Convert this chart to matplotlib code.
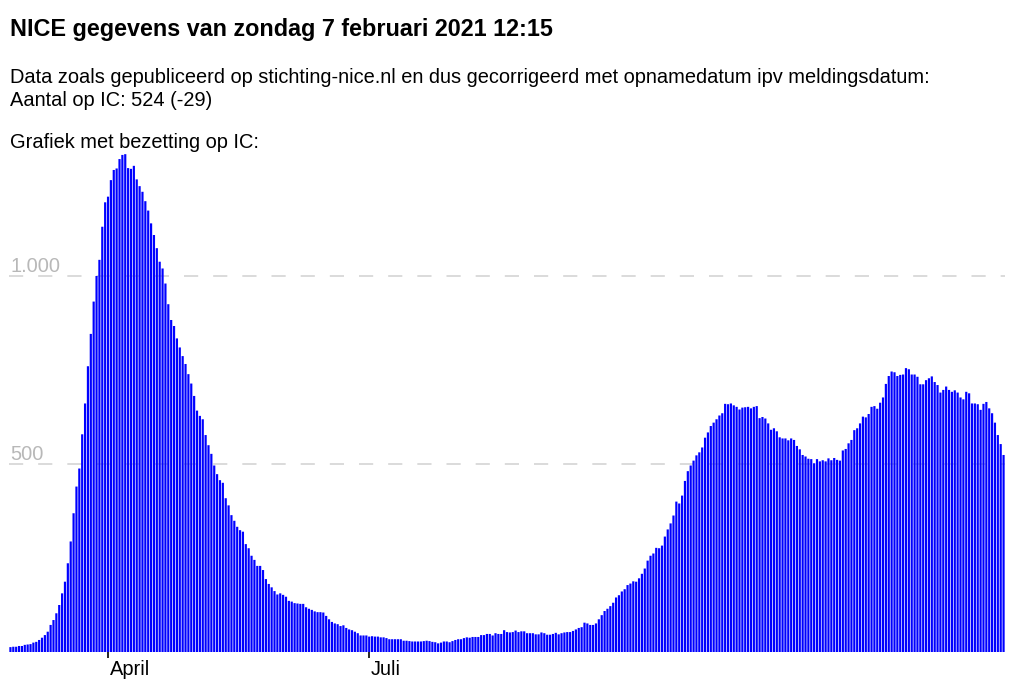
import matplotlib
matplotlib.use("Agg")
import matplotlib.pyplot as plt
import matplotlib.transforms as mtransforms
import pandas as pd

plt.rcParams['font.family'] = ['Liberation Sans', 'DejaVu Sans']

title = "NICE gegevens van zondag 7 februari 2021 12:15"
line1 = "Data zoals gepubliceerd op stichting-nice.nl en dus gecorrigeerd met opnamedatum ipv meldingsdatum:"
line2 = "Aantal op IC: 524 (-29)"
line3 = "Grafiek met bezetting op IC:"

start_date = "2020-02-27"
tick_dates = ["2020-04-01", "2020-07-01"]
tick_labels = ["April", "Juli"]
y_ticks = [500, 1000]
y_tick_labels = ["500", "1.000"]

ic_bezetting = [
    13, 14, 14, 16, 16, 19, 20, 21, 25, 27,
    32, 38, 45, 54, 72, 85, 103, 125, 156, 187,
    236, 294, 369, 440, 488, 579, 661, 760, 846, 932,
    1000, 1043, 1131, 1196, 1211, 1255, 1282, 1286, 1311, 1322,
    1324, 1287, 1285, 1293, 1257, 1239, 1224, 1199, 1174, 1140,
    1109, 1074, 1038, 1020, 980, 925, 883, 867, 834, 810,
    787, 766, 739, 714, 681, 642, 628, 619, 577, 550,
    527, 496, 473, 457, 450, 409, 390, 364, 349, 333,
    324, 320, 287, 276, 256, 245, 229, 229, 218, 194,
    181, 172, 162, 153, 156, 152, 147, 136, 134, 130,
    129, 128, 128, 119, 115, 112, 108, 106, 106, 105,
    96, 87, 80, 76, 74, 69, 71, 64, 60, 58,
    54, 50, 44, 44, 44, 41, 42, 41, 41, 39,
    39, 37, 34, 34, 34, 34, 34, 30, 30, 29,
    28, 28, 28, 28, 29, 30, 29, 27, 26, 23,
    25, 28, 28, 26, 29, 32, 34, 34, 37, 39,
    38, 40, 40, 40, 45, 45, 48, 48, 44, 50,
    48, 48, 58, 53, 52, 53, 57, 53, 55, 55,
    50, 50, 50, 47, 47, 52, 50, 46, 46, 48,
    51, 47, 50, 52, 53, 53, 56, 60, 64, 66,
    78, 76, 72, 72, 76, 87, 98, 109, 115, 122,
    131, 145, 151, 161, 167, 178, 182, 188, 187, 196,
    208, 222, 243, 256, 262, 277, 276, 283, 307, 326,
    342, 363, 400, 395, 416, 455, 481, 496, 509, 523,
    531, 544, 570, 584, 601, 610, 619, 629, 635, 660,
    659, 661, 656, 652, 645, 650, 651, 652, 648, 652,
    654, 622, 625, 621, 608, 591, 595, 587, 571, 568,
    568, 563, 568, 564, 548, 539, 524, 520, 514, 513,
    502, 513, 507, 510, 507, 515, 510, 516, 511, 509,
    536, 540, 555, 564, 590, 595, 608, 626, 624, 633,
    652, 654, 647, 663, 677, 713, 734, 746, 744, 734,
    737, 738, 755, 752, 738, 738, 732, 712, 712, 723,
    728, 733, 718, 710, 690, 697, 706, 697, 692, 696,
    690, 677, 672, 692, 688, 661, 661, 659, 644, 660,
    665, 648, 635, 610, 577, 553, 524,
]

dates = pd.date_range(start_date, periods=len(ic_bezetting), freq="D")
x = list(range(len(ic_bezetting)))

W, H = 1023, 689
fig = plt.figure(figsize=(W / 100, H / 100), dpi=100)

def fy(px):
    return 1 - px / H

body_fs = 14.4
fig.text(10 / W, fy(36), title, fontsize=16.8, fontweight="bold", va="baseline", ha="left")
fig.text(10 / W, fy(83), line1, fontsize=body_fs, va="baseline", ha="left")
fig.text(10 / W, fy(106), line2, fontsize=body_fs, va="baseline", ha="left")
fig.text(10 / W, fy(148), line3, fontsize=body_fs, va="baseline", ha="left")

ax_left, ax_right = 9, 1005
ax_bottom, ax_top = 652, 150
ax = fig.add_axes([ax_left / W, 1 - ax_bottom / H, (ax_right - ax_left) / W, (ax_bottom - ax_top) / H])
px_per_unit = 376 / 1000
ax.set_ylim(0, (ax_bottom - ax_top) / px_per_unit)
ax.set_xlim(-0.5, len(ic_bezetting) - 0.5)

bars = ax.bar(x, ic_bezetting, width=0.76, color="#0000ff", linewidth=0, zorder=2)
for b in bars:
    b.set_snap(False)

for yv, lab in zip(y_ticks, y_tick_labels):
    ax.axhline(yv, color="#d4d4d4", linewidth=1.2, linestyle=(0, (8.5, 9)), zorder=1)
    ax.annotate(lab, xy=(0, yv), xycoords=("axes fraction", "data"),
                xytext=(1, 4), textcoords="offset pixels",
                fontsize=body_fs, color="#b8b8b8", va="baseline", ha="left", zorder=3)

tick_pos = [dates.get_loc(pd.Timestamp(d)) for d in tick_dates]
ax.set_xticks(tick_pos)
ax.set_xticklabels(tick_labels, fontsize=body_fs, ha="left")
ax.tick_params(axis="x", length=4, width=1.2, color="black", pad=2)
offset = mtransforms.ScaledTranslation(1.5 / 100, 0, fig.dpi_scale_trans)
for lab in ax.get_xticklabels():
    lab.set_transform(lab.get_transform() + offset)
ax.set_yticks([])
for s in ax.spines.values():
    s.set_visible(False)

fig.savefig("out.png", dpi=100)
